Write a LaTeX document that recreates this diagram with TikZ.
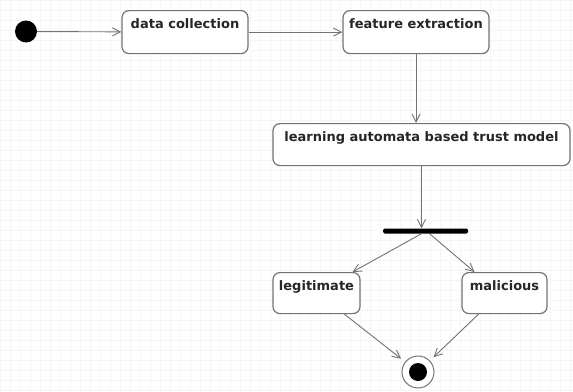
\documentclass[tikz,border=0pt]{standalone}
\usepackage{fontspec}
\setmainfont{DejaVu Sans}
\usetikzlibrary{arrows.meta,calc}
\begin{document}
\begin{tikzpicture}[x=1pt,y=-1pt,
  state/.style={draw=black!55, line width=1.2pt, rounded corners=7pt, fill=white, inner sep=0pt,
    text height=18pt, text depth=25pt, font=\bfseries\fontsize{13}{15}\selectfont, text=black!85},
  arr/.style={draw=black!55, line width=0.9pt, -{Straight Barb[length=8pt,width=8pt]}},
]
\useasboundingbox (0,0) rectangle (573,391);
\fill[white] (0,0) rectangle (573,391);
\draw[black!4, step=10pt] (0,0) grid (573,391);

\node[circle, fill=black, minimum size=22pt, inner sep=0pt] (init) at (26,31.5) {};
\node[state, minimum width=126pt, anchor=north] (dc) at (185,10) {data collection};
\node[state, minimum width=146pt, anchor=north] (fe) at (416,10) {feature extraction};
\node[state, minimum width=297pt, anchor=north, text depth=24pt] (lam) at (421.5,123) {learning automata based trust model};
\node[fill=black, minimum width=85pt, minimum height=5pt, inner sep=0pt, rounded corners=1.5pt] (bar) at (425.5,231) {};
\node[state, minimum width=87pt, anchor=north, text depth=23pt] (leg) at (316.5,272) {legitimate};
\node[state, minimum width=85pt, anchor=north, text depth=23pt] (mal) at (504.5,272) {malicious};
\node[circle, draw=black!55, line width=1pt, fill=white, minimum size=32pt, inner sep=0pt] (fin) at (418,372) {};
\node[circle, fill=black, minimum size=18pt, inner sep=0pt] (finin) at (fin) {};

\draw[arr] (init) -- (dc);
\draw[arr] (dc) -- (fe);
\draw[arr] (fe) -- (fe |- lam.north);
\draw[arr] (lam.south) -- (lam.south |- bar.north);
\draw[arr] ([xshift=-4pt]bar.south) -- ([xshift=36pt]leg.north);
\draw[arr] ([xshift=4pt]bar.south) -- ([xshift=-30pt]mal.north);
\draw[arr, shorten >=5pt] ([xshift=28pt]leg.south) -- (fin);
\draw[arr, shorten >=5pt] ([xshift=-26pt]mal.south) -- (fin);
\end{tikzpicture}
\end{document}
